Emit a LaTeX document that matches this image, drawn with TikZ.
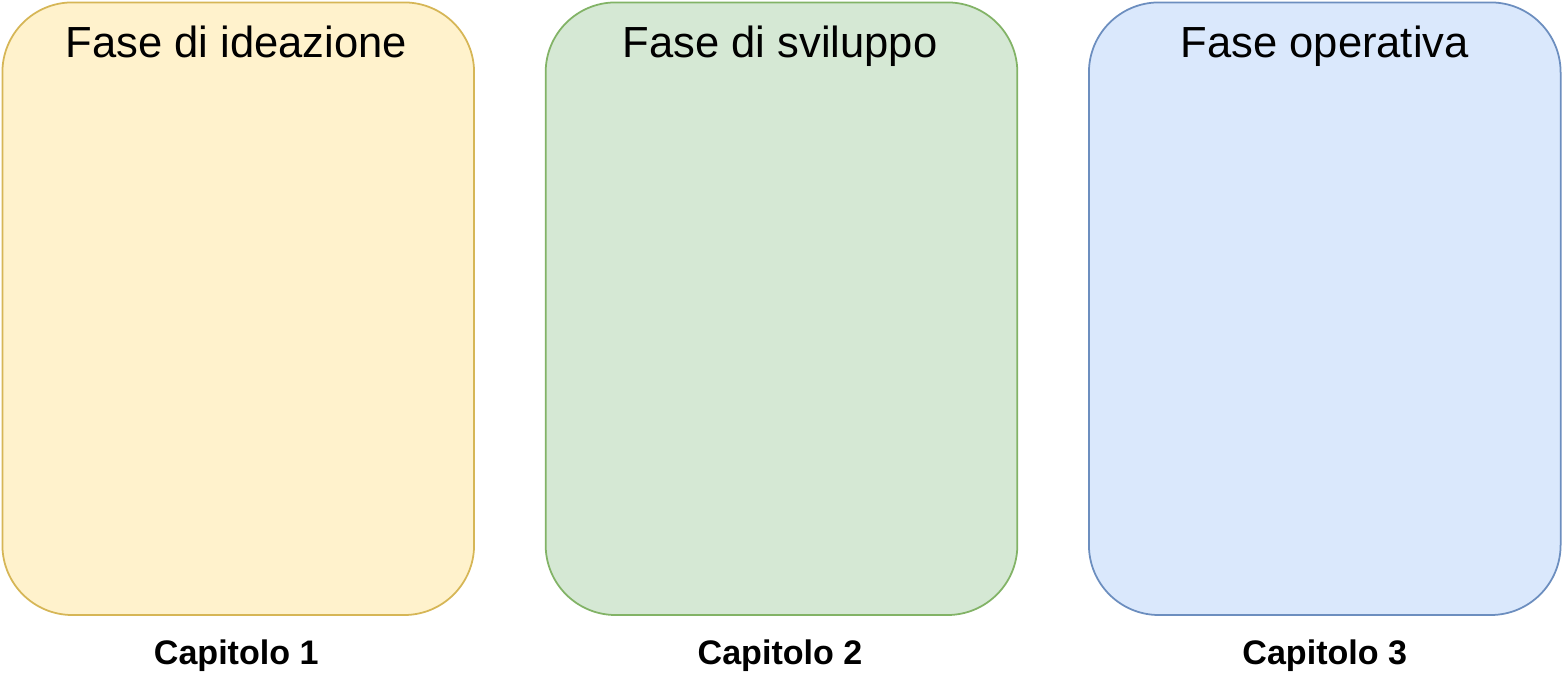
\documentclass[tikz,border=0pt]{standalone}
\usepackage{fontspec}
\setmainfont{Liberation Sans}
\usetikzlibrary{positioning}

\definecolor{ideaFill}{HTML}{FFF2CC}
\definecolor{ideaDraw}{HTML}{D6B656}
\definecolor{svilFill}{HTML}{D5E8D4}
\definecolor{svilDraw}{HTML}{82B366}
\definecolor{operFill}{HTML}{DAE8FC}
\definecolor{operDraw}{HTML}{6C8EBF}

\tikzset{
	phase/.style={rectangle, rounded corners=1.4cm, line width=1pt, inner sep=0pt, outer sep=0pt,
		minimum width=9.44cm, minimum height=12.26cm},
	title/.style={anchor=base, font=\fontsize{24.8}{30}\selectfont},
	chapter/.style={anchor=base, font=\fontsize{19.4}{24}\selectfont\bfseries}
}

\begin{document}
\begin{tikzpicture}[x=0.02cm,y=-0.02cm]
	
	%Background
	\draw[draw=white, fill=white] (0,0) rectangle (1563,688);
	
	%Ideazione
	\node[phase, draw=ideaDraw, fill=ideaFill] (ideazione) at (238,308.5) {};
	\node[title] (tIdeazione) at (236,57) {Fase di ideazione};
	\node[chapter] (cIdeazione) at (236,664) {Capitolo 1};
	
	%Sviluppo
	\node[phase, draw=svilDraw, fill=svilFill] (sviluppo) at (781.5,308.5) {};
	\node[title] (tSviluppo) at (780,57) {Fase di sviluppo};
	\node[chapter] (cSviluppo) at (780,664) {Capitolo 2};
	
	%Operativa
	\node[phase, draw=operDraw, fill=operFill] (operativa) at (1325,308.5) {};
	\node[title] (tOperativa) at (1325,57) {Fase operativa};
	\node[chapter] (cOperativa) at (1325,664) {Capitolo 3};
	
\end{tikzpicture}
\end{document}
